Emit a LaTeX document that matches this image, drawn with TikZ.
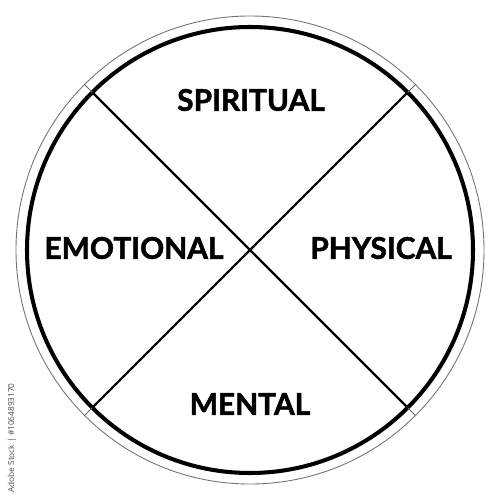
\documentclass[tikz,border=0pt]{standalone}
\usepackage{fontspec}
\setmainfont{Lato}[BoldFeatures={FakeBold=1.6}]
\newfontfamily\stockfont{Open Sans}
\usepackage{tikz}

\begin{document}
\begin{tikzpicture}[x=0.02cm, y=0.02cm]
    \tikzset{
        label/.style={font=\fontsize{17}{19}\selectfont\bfseries, inner sep=0pt},
        spoke/.style={line width=1.4pt},
        tick/.style={line width=0.5pt, black!60}
    }
    \useasboundingbox (-250,-250) rectangle (250,250);

    \coordinate (O) at (0,0);
    \coordinate (A1) at (45:223);
    \coordinate (A2) at (135:223);
    \coordinate (A3) at (225:223);
    \coordinate (A4) at (315:223);
    \coordinate (B1) at (45:234);
    \coordinate (B2) at (135:234);
    \coordinate (B3) at (225:234);
    \coordinate (B4) at (315:234);

    \draw[black!55, line width=0.5pt] (O) circle (234); % outer ring
    \draw[line width=2.3pt] (O) circle (223); % inner ring

    \draw[spoke] (A1) -- (A3); % diagonal
    \draw[spoke] (A2) -- (A4); % diagonal

    \draw[tick] (A1) -- (B1);
    \draw[tick] (A2) -- (B2);
    \draw[tick] (A3) -- (B3);
    \draw[tick] (A4) -- (B4);

    \node[label] (spiritual) at (1,150) {SPIRITUAL};
    \node[label] (physical) at (131,2) {PHYSICAL};
    \node[label] (emotional) at (-116,2) {EMOTIONAL};
    \node[label] (mental) at (0,-154) {MENTAL};

    \node[font=\stockfont\fontsize{4.7}{5}\selectfont, text=black!70, rotate=90, inner sep=0pt] (stock) at (-238,-188) {Adobe Stock | \#1064893170};
\end{tikzpicture}
\end{document}
